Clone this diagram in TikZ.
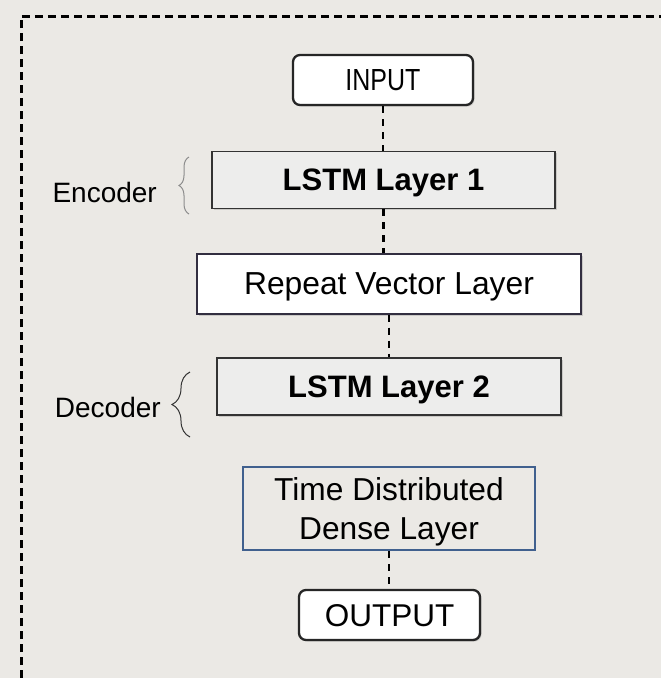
\documentclass[tikz,border=0pt]{standalone}
\usepackage{fontspec}
\setmainfont{Liberation Sans}
\newfontfamily\narrowfont[FakeStretch=0.82]{Liberation Sans}
\usetikzlibrary{decorations.pathreplacing,shadows}
\definecolor{fond}{RGB}{235,233,229}
\definecolor{grisclair}{RGB}{237,237,236}
\definecolor{bleucadre}{RGB}{64,96,142}
\definecolor{bordrepet}{RGB}{50,46,64}
\begin{document}
\begin{tikzpicture}[x=1pt,y=-1pt]
	\tikzset{
		ombre/.style={drop shadow={shadow xshift=1.5pt,shadow yshift=-1.5pt,opacity=.3}},
		terminal/.style={draw=black!85,line width=2.3pt,rounded corners=7pt,fill=white,inner sep=0pt,text depth=0pt,ombre},
		couche/.style={draw=black!80,line width=1.4pt,fill=grisclair,inner sep=0pt,text depth=0pt,font=\fontsize{31}{36}\selectfont\bfseries,ombre},
		repet/.style={draw=bordrepet,line width=1.1pt,fill=white,inner sep=0pt,text depth=0pt,font=\fontsize{31.8}{36}\selectfont,ombre},
		dense/.style={draw=bleucadre,line width=2.5pt,inner sep=0pt,text depth=0pt,align=center,font=\fontsize{31.7}{38.5}\selectfont},
		lien/.style={line width=2.3pt,dash pattern=on 7pt off 6pt},
		etiquette/.style={anchor=east,inner sep=0pt,font=\fontsize{28}{32}\selectfont}
	}

	\fill[fond] (0,0) rectangle (661,678);
	\useasboundingbox (0,0) rectangle (661,678);

	\draw[line width=3pt,dash pattern=on 8pt off 5pt] (21,678) -- (21,16) -- (661,16);

	\node[terminal,minimum width=180pt,minimum height=50pt,font=\fontsize{30.5}{36}\narrowfont] (inp) at (383,80) {INPUT};
	\node[couche,minimum width=343pt,minimum height=57pt] (lstmA) at (383.5,180) {LSTM Layer 1};
	\node[repet,minimum width=384pt,minimum height=60pt] (rep) at (389,284) {Repeat Vector Layer};
	\node[couche,minimum width=344pt,minimum height=57pt] (lstmB) at (389,386.5) {LSTM Layer 2};
	\node[dense,minimum width=292pt,minimum height=83pt] (tdd) at (389,508.5) {Time Distributed\\Dense Layer};
	\node[terminal,minimum width=181pt,minimum height=50pt,font=\fontsize{31.5}{36}\selectfont] (out) at (389.5,615) {OUTPUT};

	\node[etiquette] (enc) at (157,192) {Encoder};
	\node[etiquette] (dec) at (161,407) {Decoder};

	\draw[decorate,decoration={brace,amplitude=10pt},draw=black!45,line width=1pt] (189,214) -- (189,157);
	\draw[decorate,decoration={brace,amplitude=18pt},draw=black!80,line width=1pt] (190,437) -- (190,372);

	\draw[lien] (inp.south) -- (inp.south |- lstmA.north);
	\draw[lien] (lstmA.south) -- (lstmA.south |- rep.north);
	\draw[lien] (rep.south) -- (rep.south |- lstmB.north);
	\draw[lien] (tdd.south) -- (tdd.south |- out.north);

\end{tikzpicture}
\end{document}
